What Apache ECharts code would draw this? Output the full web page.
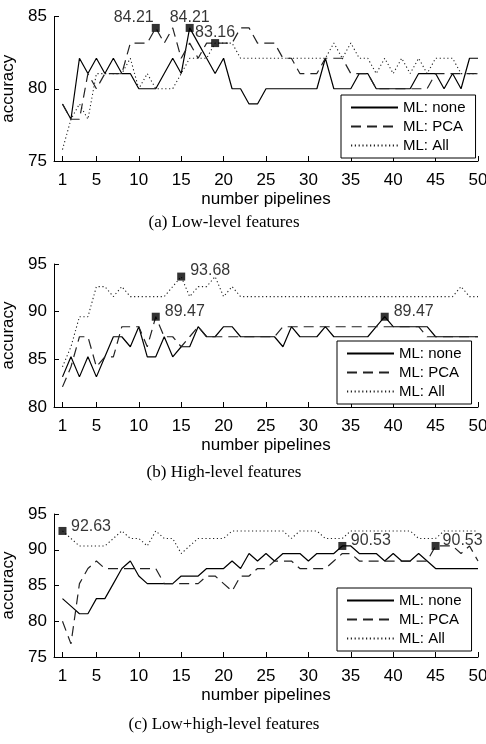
<!DOCTYPE html>
<html><head><meta charset="utf-8">
<script src="https://cdn.jsdelivr.net/npm/echarts@6/dist/echarts.min.js"></script>
<style>html,body{margin:0;padding:0;background:#fff}#c{width:486px;height:744px}</style>
</head><body><div id="c"></div>
<script>
// ---- data ----
const pipelines = [1,2,3,4,5,6,7,8,9,10,11,12,13,14,15,16,17,18,19,20,21,22,23,24,25,26,27,28,29,30,31,32,33,34,35,36,37,38,39,40,41,42,43,44,45,46,47,48,49,50];
const xTickValues = [1,5,10,15,20,25,30,35,40,45,50];
const seriesNames = ['ML: none','ML: PCA','ML: All'];
const captions = ['(a) Low-level features','(b) High-level features','(c) Low+high-level features'];

// (a) Low-level features
const lowNone = [78.95,77.89,82.11,81.05,82.11,81.05,82.11,81.05,81.05,80,80,80,81.05,82.11,81.05,84.21,83.16,82.11,81.05,82.11,80,80,78.95,78.95,80,80,80,80,80,80,80,82.11,80,80,80,81.05,81.05,80,80,80,80,80,81.05,81.05,81.05,80,81.05,80,82.11,82.11];
const lowPca  = [78.95,77.89,77.89,81.05,80,81.05,81.05,81.05,83.16,83.16,83.16,84.21,83.16,84.21,82.11,83.16,82.11,83.16,83.16,83.16,83.16,84.21,84.21,83.16,83.16,83.16,82.11,82.11,81.05,81.05,81.05,82.11,82.11,82.11,81.05,81.05,81.05,80,80,80,80,80,80,80,81.05,81.05,81.05,81.05,81.05,81.05];
const lowAll  = [75.79,77.89,78.95,77.89,81.05,81.05,81.05,81.05,82.11,80,81.05,80,80,80,81.05,82.11,82.11,82.11,83.16,83.16,83.16,82.11,82.11,82.11,82.11,82.11,82.11,82.11,82.11,82.11,82.11,82.11,83.16,82.11,83.16,82.11,82.11,81.05,82.11,81.05,82.11,81.05,82.11,81.05,82.11,82.11,82.11,81.05,81.05,81.05];
const lowBest = [[12,84.21],[16,84.21],[19,83.16]];

// (b) High-level features
const highNone = [83.16,85.26,83.16,85.26,83.16,85.26,87.37,87.37,86.32,88.42,85.26,85.26,87.37,85.26,86.32,86.32,88.42,87.37,87.37,88.42,88.42,87.37,87.37,87.37,87.37,87.37,86.32,88.42,87.37,87.37,87.37,88.42,87.37,87.37,87.37,87.37,87.37,88.42,89.47,88.42,88.42,88.42,88.42,88.42,87.37,87.37,87.37,87.37,87.37,87.37];
const highPca  = [82.11,84.21,87.37,87.37,84.21,85.26,85.26,88.42,88.42,88.42,86.32,89.47,87.37,87.37,86.32,87.37,88.42,87.37,87.37,87.37,87.37,87.37,87.37,87.37,87.37,87.37,88.42,88.42,88.42,88.42,88.42,88.42,88.42,88.42,88.42,88.42,88.42,88.42,88.42,88.42,88.42,88.42,88.42,87.37,87.37,87.37,87.37,87.37,87.37,87.37];
const highAll  = [84.21,86.32,89.47,89.47,92.63,92.63,91.58,92.63,91.58,91.58,91.58,91.58,91.58,92.63,93.68,91.58,92.63,92.63,93.68,91.58,92.63,91.58,91.58,91.58,91.58,91.58,91.58,91.58,91.58,91.58,91.58,91.58,91.58,91.58,91.58,91.58,91.58,91.58,91.58,91.58,91.58,91.58,91.58,91.58,91.58,91.58,91.58,92.63,91.58,91.58];
const highBest = [[12,89.47],[15,93.68],[39,89.47]];

// (c) Low+high-level features
const bothNone = [83.16,82.11,81.05,81.05,83.16,83.16,85.26,87.37,88.42,86.32,85.26,85.26,85.26,85.26,86.32,86.32,86.32,87.37,87.37,87.37,88.42,87.37,89.47,88.42,89.47,88.42,89.47,89.47,89.47,88.42,89.47,89.47,89.47,90.53,90.53,89.47,89.47,89.47,88.42,89.47,88.42,88.42,89.47,88.42,87.37,87.37,87.37,87.37,87.37,87.37];
const bothPca  = [80,76.84,85.26,87.37,88.42,87.37,87.37,87.37,87.37,87.37,87.37,87.37,85.26,85.26,85.26,85.26,85.26,86.32,86.32,85.26,84.21,86.32,86.32,87.37,87.37,88.42,88.42,88.42,87.37,87.37,87.37,87.37,88.42,89.47,89.47,88.42,88.42,88.42,88.42,88.42,88.42,88.42,88.42,88.42,90.53,90.53,90.53,89.47,90.53,88.42];
const bothAll  = [92.63,91.58,90.53,90.53,90.53,90.53,91.58,92.63,91.58,91.58,90.53,92.63,91.58,91.58,89.47,90.53,91.58,91.58,91.58,91.58,92.63,92.63,92.63,92.63,92.63,92.63,92.63,91.58,92.63,92.63,92.63,91.58,91.58,91.58,92.63,92.63,92.63,92.63,92.63,92.63,92.63,92.63,91.58,91.58,91.58,92.63,92.63,92.63,92.63,92.63];
const bothBest = [[1,92.63],[34,90.53],[45,90.53]];

const yMin = [75,80,75];
const yMax = [85,95,95];

// ---- layout / style ----
const FONT = "'Liberation Sans', Arial, Helvetica, sans-serif";
const SERIF = "'Liberation Serif', 'Times New Roman', serif";
const panels = [
  {none: lowNone, pca: lowPca, all: lowAll, best: lowBest},
  {none: highNone, pca: highPca, all: highAll, best: highBest},
  {none: bothNone, pca: bothPca, all: bothAll, best: bothBest}
];
const gridBoxes = [{top:16.5,height:144.5},{top:264,height:143},{top:514,height:143}];
const legendBoxes = [{left:341,top:95},{left:337,top:341},{left:337,top:588}];
const captionY = [223,473,725];
const labelPlace = [
  [{position:[2,-6.5],align:'right'},{position:[4,-6.5],align:'center'},{position:[4,-6],align:'center'}],
  [{position:[13,-1.5],align:'left'},{position:[13,-1.5],align:'left'},{position:[13,-1.5],align:'left'}],
  [{position:[12.5,0],align:'left'},{position:[12.5,-1],align:'left'},{position:[11,-1],align:'left'}]
];
const lineStyles = [
  {color:'#000', width:1.2, type:'solid'},
  {color:'#222', width:1.2, type:[10,6]},
  {color:'#222', width:1.1, type:[1.2,2.6]}
];

const grid = [], xAxis = [], yAxis = [], series = [], legend = [], graphic = [];
panels.forEach((p, i) => {
  grid.push({left:54, right:8, top:gridBoxes[i].top, height:gridBoxes[i].height,
    containLabel:false, outerBoundsMode:'none'});
  xAxis.push({
    gridIndex:i, type:'value', min:0, max:50,
    axisLine:{show:true, onZero:false, lineStyle:{color:'#000', width:1}},
    axisTick:{show:true, inside:true, length:5, customValues:xTickValues, lineStyle:{color:'#000'}},
    axisLabel:{customValues:xTickValues, margin:11, fontSize:17, color:'#000', fontFamily:FONT},
    splitLine:{show:false},
    name:'number pipelines', nameLocation:'middle', nameGap:30,
    nameTextStyle:{fontSize:17, color:'#000', fontFamily:FONT}
  });
  yAxis.push({
    gridIndex:i, type:'value', min:yMin[i], max:yMax[i], interval:5,
    axisLine:{show:true, onZero:false, lineStyle:{color:'#000', width:1}},
    axisTick:{show:true, inside:true, length:5, lineStyle:{color:'#000'}},
    axisLabel:{margin:7, fontSize:17, color:'#000', fontFamily:FONT},
    splitLine:{show:false},
    name:'accuracy', nameLocation:'middle', nameGap:26, nameRotate:90,
    nameTextStyle:{fontSize:17, color:'#000', fontFamily:FONT}
  });
  [p.none, p.pca, p.all].forEach((arr, s) => {
    series.push({
      name: seriesNames[s], type:'line', xAxisIndex:i, yAxisIndex:i,
      data: pipelines.map((x, j) => [x, arr[j]]),
      symbol:'none', showSymbol:false, lineStyle: lineStyles[s],
      itemStyle:{color:lineStyles[s].color}, animation:false, z:2+s
    });
  });
  series.push({
    type:'scatter', xAxisIndex:i, yAxisIndex:i, symbol:'rect', symbolSize:8,
    itemStyle:{color:'#000'}, z:10, animation:false,
    data: p.best.map((v, k) => ({
      value: v,
      label:{show:true, position:labelPlace[i][k].position, align:labelPlace[i][k].align,
        verticalAlign:'middle', formatter: v[1].toFixed(2), fontSize:16, color:'#000', fontFamily:FONT}
    }))
  });
  legend.push({
    data: seriesNames, orient:'vertical', left:legendBoxes[i].left, top:legendBoxes[i].top,
    itemWidth:47, itemHeight:14, itemGap:4, padding:[5,10,5,9],
    borderColor:'#000', borderWidth:1, backgroundColor:'#fff', selectedMode:false,
    itemStyle:{opacity:0},
    textStyle:{fontSize:15, color:'#000', fontFamily:FONT}
  });
  graphic.push({type:'text', x:224, y:captionY[i],
    style:{text:captions[i], font:'17px ' + SERIF, fill:'#000', textAlign:'center', textVerticalAlign:'middle'}});
});

const chart = echarts.init(document.getElementById('c'), null, {renderer:'canvas'});
chart.setOption({animation:false, backgroundColor:'#fff', grid, xAxis, yAxis, series, legend, graphic});
</script>
</body></html>
